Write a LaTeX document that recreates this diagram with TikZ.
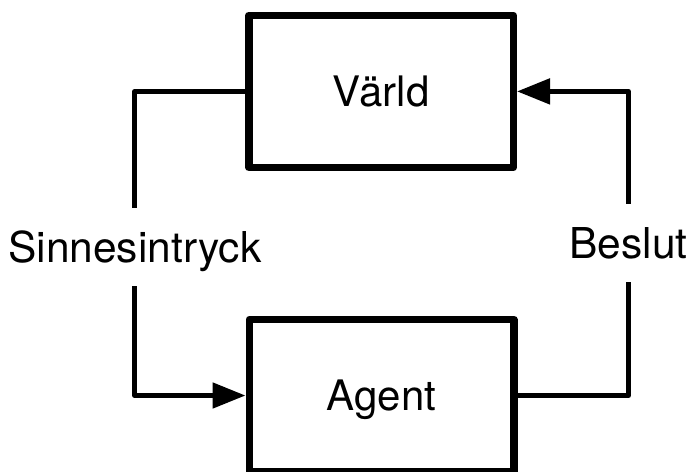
\documentclass[tikz,border=0pt]{standalone}
\usepackage{fontspec}
\setmainfont{TeX Gyre Heros}
\usetikzlibrary{arrows.meta}
\begin{document}
\begin{tikzpicture}[x=1pt,y=-1pt,
  box/.style={draw, line width=7.5pt, line join=round, outer sep=3.75pt,
    minimum width=264.5pt, minimum height=152pt, inner sep=0pt,
    text height=30pt, text depth=0pt, font=\fontsize{42}{42}\selectfont},
  lbl/.style={inner xsep=0pt, inner ysep=24pt, text height=30.5pt, text depth=0pt,
    font=\fontsize{42.5}{42.5}\selectfont},
  conn/.style={line width=5pt, line join=round},
  tipend/.style={-{Triangle[length=33pt,width=25pt]}}]
\useasboundingbox (0,0) rectangle (690,471);
\node[box] (world) at (381,91.4) {Värld};
\node[box] (agent) at (381.5,395.5) {Agent};
\node[lbl] (sin) at (134.8,247) {Sinnesintryck};
\node[lbl] (bes) at (628.5,243) {Beslut};
\draw[conn] (world.west) -| (sin.north);
\draw[conn,tipend] (sin.south) |- (agent.west);
\draw[conn] (agent.east) -| (bes.south);
\draw[conn,tipend] (bes.north) |- (world.east);
\end{tikzpicture}
\end{document}
